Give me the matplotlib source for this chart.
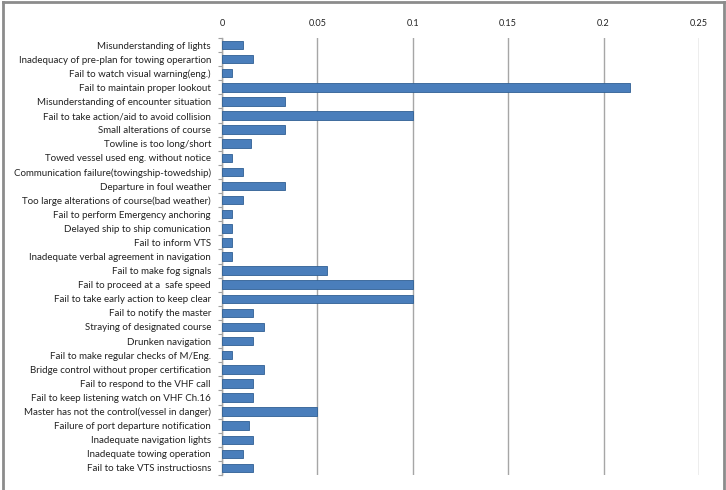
import matplotlib
matplotlib.use("Agg")
import matplotlib.pyplot as plt
import numpy as np
from matplotlib.lines import Line2D

categories = [
    "Misunderstanding of lights",
    "Inadequacy of pre-plan for towing operartion",
    "Fail to watch visual warning(eng.)",
    "Fail to maintain proper lookout",
    "Misunderstanding of encounter situation",
    "Fail to take action/aid to avoid collision",
    "Small alterations of course",
    "Towline is too long/short",
    "Towed vessel used eng. without notice",
    "Communication failure(towingship-towedship)",
    "Departure in foul weather",
    "Too large alterations of course(bad weather)",
    "Fail to perform Emergency anchoring",
    "Delayed ship to ship comunication",
    "Fail to inform VTS",
    "Inadequate verbal agreement in navigation",
    "Fail to make fog signals",
    "Fail to proceed at a  safe speed",
    "Fail to take early action to keep clear",
    "Fail to notify the master",
    "Straying of designated course",
    "Drunken navigation",
    "Fail to make regular checks of M/Eng.",
    "Bridge control without proper certification",
    "Fail to respond to the VHF call",
    "Fail to keep listening watch on VHF Ch.16",
    "Master has not the control(vessel in danger)",
    "Failure of port departure notification",
    "Inadequate navigation lights",
    "Inadequate towing operation",
    "Fail to take VTS instructiosns",
]
values = [
    0.011, 0.016, 0.0055, 0.214, 0.033, 0.1, 0.033, 0.015, 0.0055, 0.011,
    0.033, 0.011, 0.0055, 0.0055, 0.0055, 0.0055, 0.055, 0.1, 0.1, 0.016,
    0.022, 0.016, 0.0055, 0.022, 0.016, 0.016, 0.05, 0.014, 0.016, 0.011,
    0.016,
]
xticks = [0, 0.05, 0.1, 0.15, 0.2, 0.25]
xticklabels = ["0", "0.05", "0.1", "0.15", "0.2", "0.25"]

plt.rcParams['font.family'] = ['Lato', 'DejaVu Sans']
fs = 7.0

W, H = 726, 490
fig = plt.figure(figsize=(W / 100, H / 100), dpi=100)
ax = fig.add_axes([222 / W, 1 - 475 / H, (699 - 222) / W, (475 - 38) / H])

n = len(categories)
y = np.arange(n)
ax.barh(y, values, height=0.6, color="#4a7ebb", edgecolor="#2f5f94", linewidth=0.6, zorder=3)

ax.set_xlim(0, 0.25)
ax.set_ylim(n - 0.5, -0.5)
ax.set_yticks(y)
ax.set_yticklabels(categories, fontsize=fs, color="#222222")
ax.tick_params(axis='y', length=0, pad=8)
ax.set_yticks(np.arange(-0.5, n, 1), minor=True)
ax.tick_params(axis='y', which='minor', length=3, color="#a0a0a0", width=0.8)

ax.xaxis.tick_top()
ax.set_xticks(xticks)
ax.set_xticklabels(xticklabels, fontsize=fs - 0.4, color="#222222")
ax.tick_params(axis='x', length=0, pad=7)
ax.grid(axis='x', color="#a6a6a6", linewidth=1.0, zorder=0)

for s in ["top", "right", "bottom"]:
    ax.spines[s].set_visible(False)
ax.spines["left"].set_color("#a6a6a6")
ax.spines["left"].set_linewidth(1.0)

# outer chart border
fig.add_artist(Line2D([2.5 / W, 2.5 / W], [0, 1 - 2.5 / H], transform=fig.transFigure, color="#8c8c8c", lw=2))
fig.add_artist(Line2D([2.5 / W, 723.5 / W], [1 - 2.5 / H, 1 - 2.5 / H], transform=fig.transFigure, color="#8c8c8c", lw=2))
fig.add_artist(Line2D([723.5 / W, 723.5 / W], [0, 1 - 2.5 / H], transform=fig.transFigure, color="#8c8c8c", lw=2))

fig.savefig("out.png", dpi=100)
